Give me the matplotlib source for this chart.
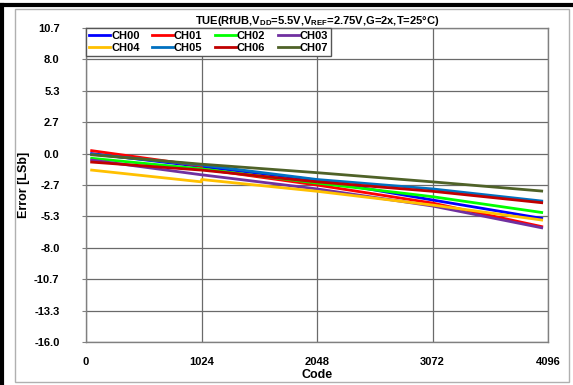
import numpy as np
import matplotlib
matplotlib.use("Agg")
import matplotlib.pyplot as plt
from matplotlib.lines import Line2D
from matplotlib.patches import Rectangle

plt.rcParams['font.family'] = ['Liberation Sans', 'DejaVu Sans']
plt.rcParams['font.weight'] = 'bold'
plt.rcParams['mathtext.fontset'] = 'custom'
plt.rcParams['mathtext.rm'] = 'Liberation Sans:bold'
plt.rcParams['mathtext.bf'] = 'Liberation Sans:bold'
plt.rcParams['mathtext.default'] = 'bf'

# ---- data ----
codes = [50, 1023, 1025, 2048, 3072, 4040]
series_names = ["CH00", "CH01", "CH02", "CH03", "CH04", "CH05", "CH06", "CH07"]
ch00 = [0.00, -1.10, -1.10, -2.25, -3.94, -5.50]
ch01 = [0.25, -1.05, -1.30, -2.67, -4.20, -6.20]
ch02 = [-0.40, -1.30, -1.30, -2.50, -3.66, -5.00]
ch03 = [-0.55, -1.80, -1.80, -3.00, -4.45, -6.30]
ch04 = [-1.40, -2.40, -2.20, -3.20, -4.37, -5.64]
ch05 = [-0.05, -0.97, -0.97, -2.20, -3.00, -4.03]
ch06 = [-0.72, -1.40, -1.40, -2.40, -3.20, -4.17]
ch07 = [-0.10, -0.90, -0.90, -1.62, -2.40, -3.18]
series_values = [ch00, ch01, ch02, ch03, ch04, ch05, ch06, ch07]
colors = ["#0000FF", "#FF0000", "#00FF00", "#7030A0",
          "#FFC000", "#0070C0", "#C00000", "#4F6228"]

xticks = [0, 1024, 2048, 3072, 4096]
yticks = [-16 + k * 8 / 3 for k in range(11)]
ytick_labels = ["-16.0", "-13.3", "-10.7", "-8.0", "-5.3", "-2.7",
                "0.0", "2.7", "5.3", "8.0", "10.7"]

W, H = 573, 385
fig = plt.figure(figsize=(W / 100, H / 100), dpi=100)

# outer decorations
fig.add_artist(Rectangle((15 / W, 1 - 382 / H), (569 - 15) / W, (382 - 9) / H,
                         transform=fig.transFigure, fill=False,
                         edgecolor="#b0b0b0", lw=1))
fig.add_artist(Line2D([0, 1], [1 - 5 / H, 1 - 5 / H], transform=fig.transFigure,
                      color="black", lw=3))
fig.add_artist(Line2D([2 / W, 2 / W], [0, 1 - 5 / H], transform=fig.transFigure,
                      color="black", lw=3))

ax = fig.add_axes([86 / W, 1 - 342 / H, (548 - 86) / W, (342 - 28) / H])

handles = []
for name, vals, c in zip(series_names, series_values, colors):
    h, = ax.plot(codes, vals, color=c, lw=2.0, label=name)
    handles.append(h)

ax.set_xlim(0, 4096)
ax.set_ylim(-16, 32 / 3)
ax.set_xticks(xticks)
ax.set_xticklabels([str(v) for v in xticks], fontsize=8, fontweight='bold')
ax.set_yticks(yticks)
ax.set_yticklabels(ytick_labels, fontsize=8, fontweight='bold')
ax.tick_params(axis='x', length=0, pad=11)
ax.tick_params(axis='y', length=3, pad=16, color="#808080")
ax.grid(True, color="#6a6a6a", lw=0.9)
ax.set_axisbelow(True)
for s in ax.spines.values():
    s.set_color("#808080")
    s.set_linewidth(1)

ax.set_xlabel("Code", fontsize=9, fontweight='bold', labelpad=1)
ax.set_ylabel("Error [LSb]", fontsize=9, fontweight='bold', labelpad=3)
ax.set_title(r"TUE(RfUB,V$_{DD}$=5.5V,V$_{REF}$=2.75V,G=2x,T=25°C)",
             fontsize=8, fontweight='bold', pad=3)

# row-major ordering for a 4-column legend
order = [0, 4, 1, 5, 2, 6, 3, 7]
leg = ax.legend([handles[i] for i in order], [series_names[i] for i in order],
                loc='upper left', bbox_to_anchor=(0, 1), ncol=4,
                fontsize=8, frameon=True, fancybox=False,
                borderaxespad=0, handlelength=1.9, handletextpad=0.1,
                columnspacing=1.1, labelspacing=0.2, borderpad=0.25)
leg.get_frame().set_edgecolor("#555555")
leg.get_frame().set_linewidth(1)
leg.get_frame().set_alpha(1)
for t in leg.get_texts():
    t.set_fontweight('bold')

fig.savefig("out.png", dpi=100)
